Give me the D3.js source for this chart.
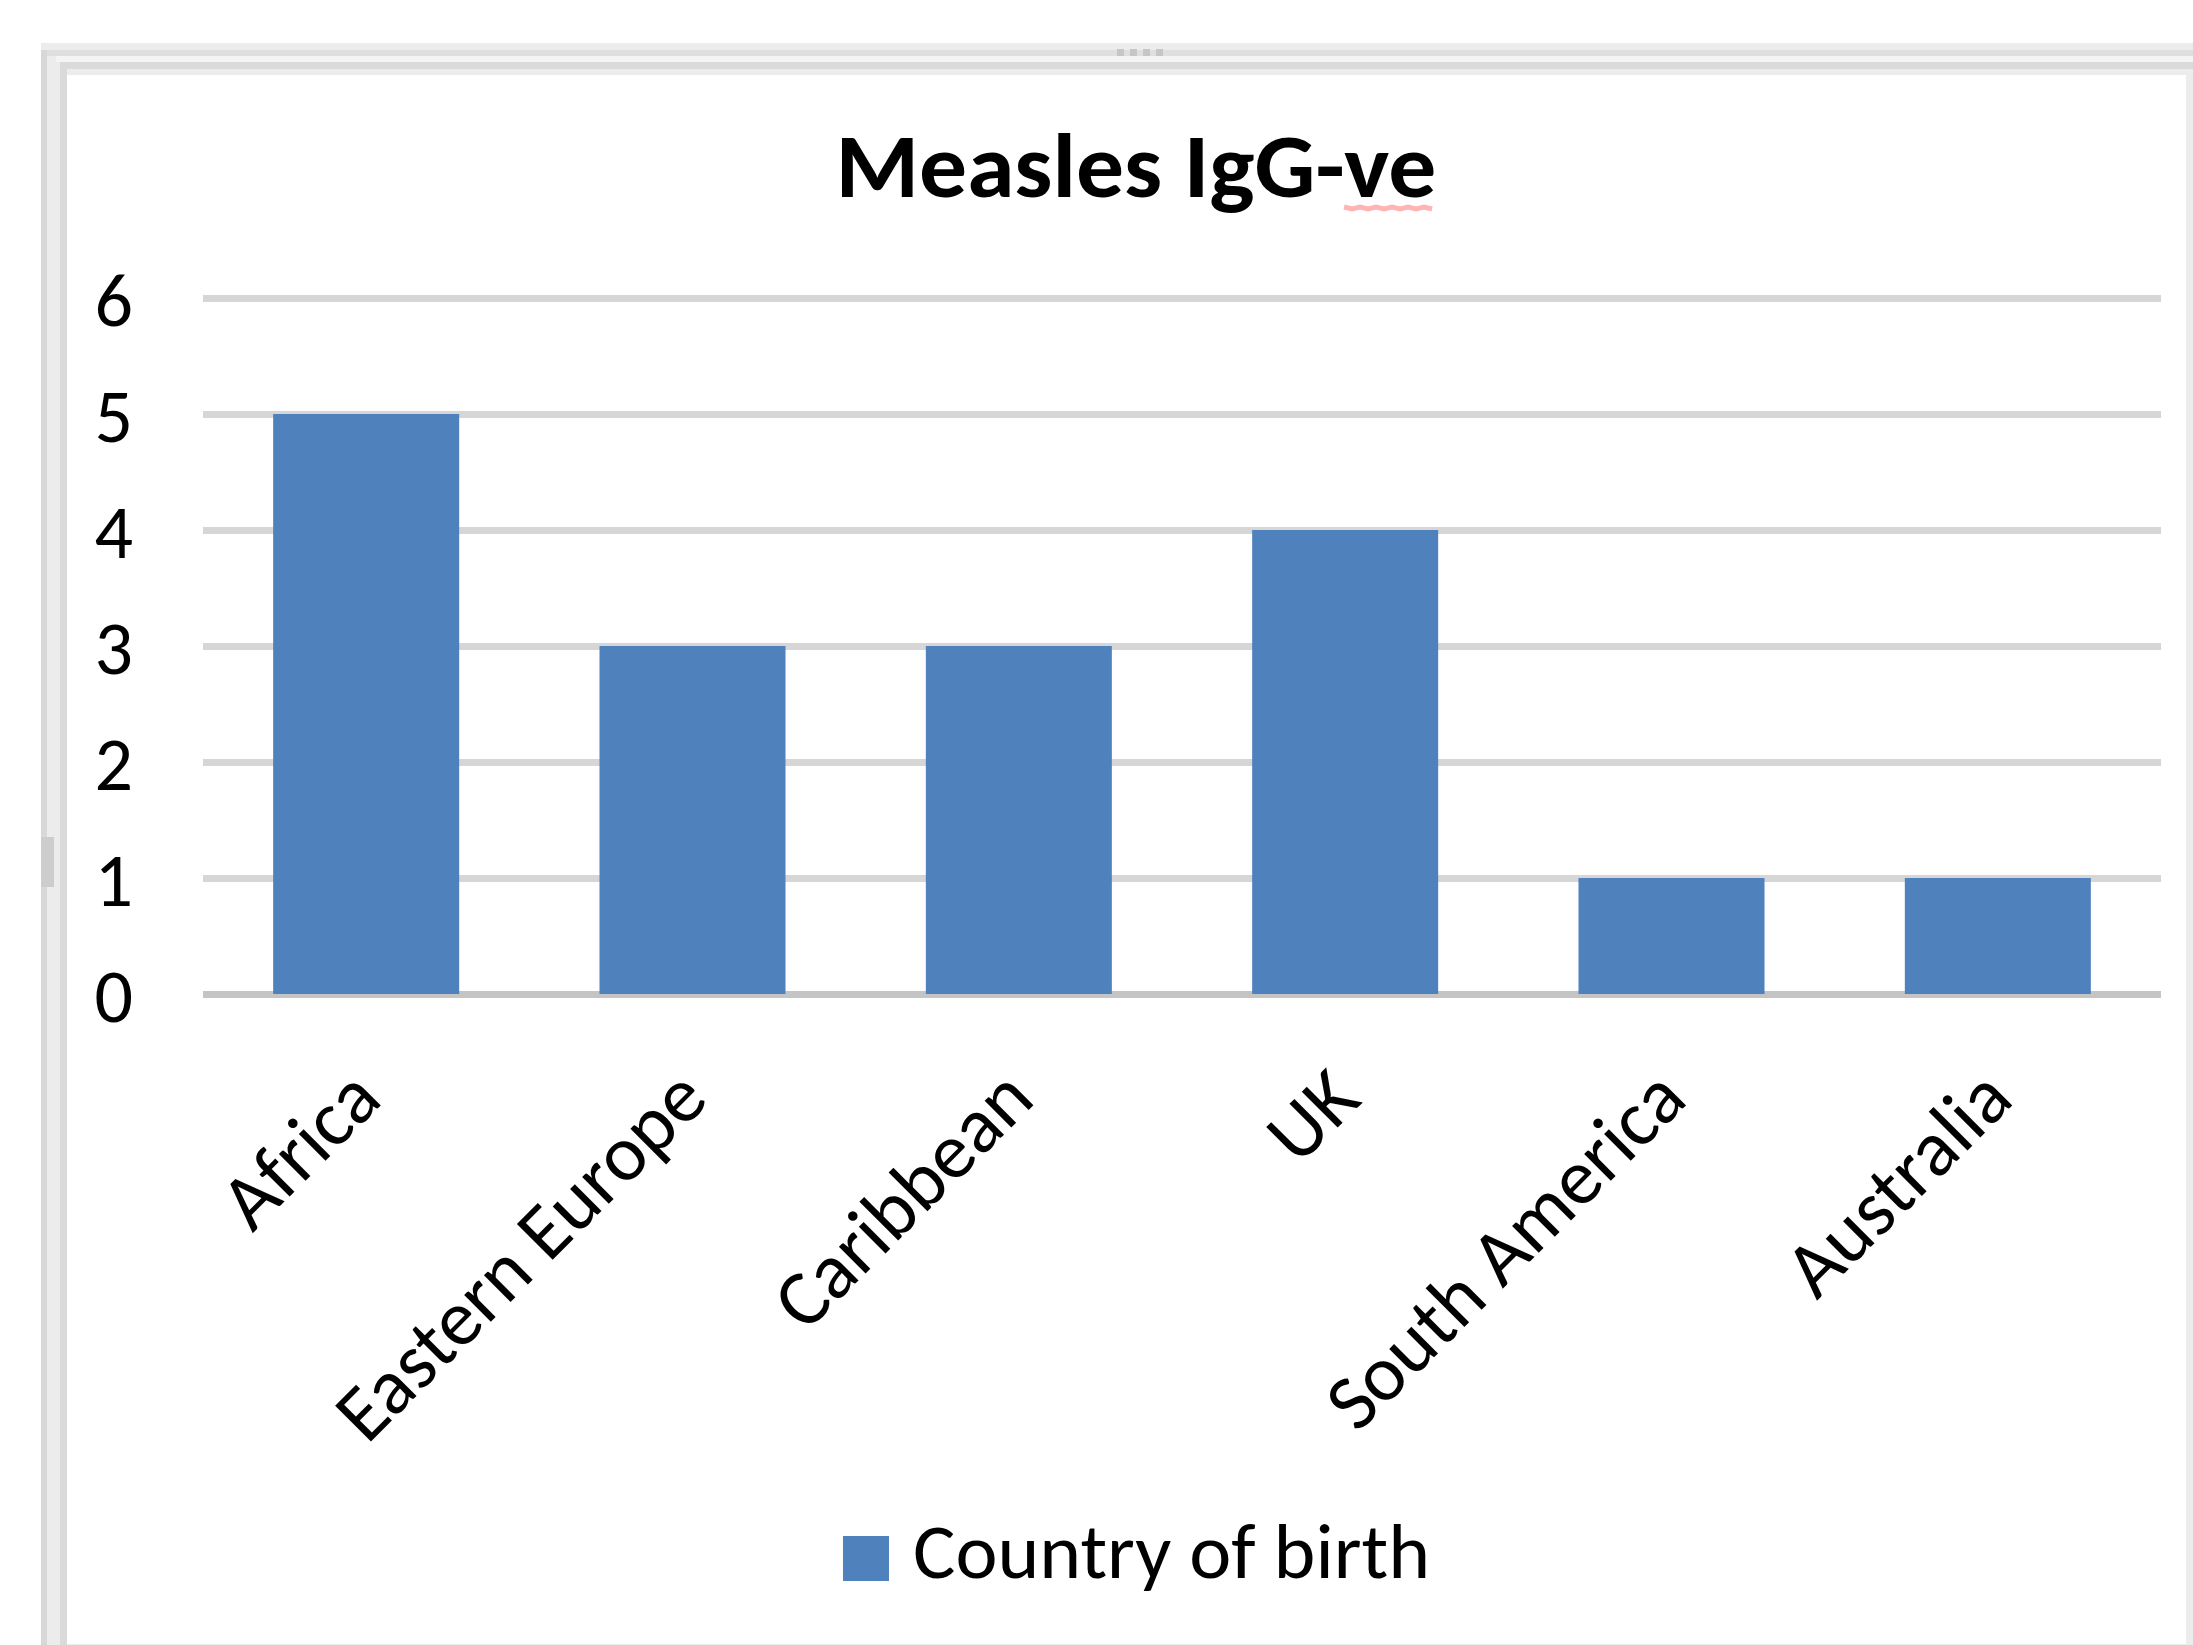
<!DOCTYPE html>
<html>
<head>
<meta charset="utf-8">
<script src="https://cdn.jsdelivr.net/npm/d3@7"></script>
<style>
  body { margin: 0; background: #fff; }
  svg { display: block; }
  text { font-family: Carlito, Calibri, Lato, "Open Sans", sans-serif; fill: #000; }
</style>
</head>
<body>
<div id="chart"></div>
<script>
// chart data
var categories = ["Africa", "Eastern Europe", "Caribbean", "UK", "South America", "Australia"];
var values = [5, 3, 3, 4, 1, 1];
var yTicks = [0, 1, 2, 3, 4, 5, 6];
var chartTitle = "Measles IgG-ve";
var seriesName = "Country of birth";

var W = 2193, H = 1645;
var margin = {top: 298, left: 203},
  plotW = 2161 - 203,
  plotH = 994 - 298;

var svg = d3.select("#chart")
  .append("svg")
    .attr("width", W)
    .attr("height", H);

// window frame around the chart
var frame = svg.append("g");
frame.append("rect").attr("x", 41).attr("y", 43).attr("width", W - 41).attr("height", H - 43).attr("fill", "#ececec");
frame.append("rect").attr("x", 41).attr("y", 50).attr("width", W - 41).attr("height", 6).attr("fill", "#dfdfdf");
frame.append("rect").attr("x", 56).attr("y", 56).attr("width", W - 56).attr("height", 6).attr("fill", "#f4f4f4");
frame.append("rect").attr("x", 60).attr("y", 62).attr("width", W - 60).attr("height", 7).attr("fill", "#dadada");
frame.append("rect").attr("x", 41).attr("y", 50).attr("width", 6).attr("height", H - 50).attr("fill", "#d8d8d8");
frame.append("rect").attr("x", 60).attr("y", 62).attr("width", 7).attr("height", H - 62).attr("fill", "#dadada");
frame.append("rect").attr("x", 67).attr("y", 75).attr("width", 2186 - 67).attr("height", 1644 - 75).attr("fill", "#fff");
// grab handles
frame.selectAll(".dot").data(d3.range(4)).enter().append("rect")
  .attr("x", function(d) { return 1117 + d * 13; })
  .attr("y", 49).attr("width", 7).attr("height", 7).attr("fill", "#c6c6c6");
frame.append("rect").attr("x", 41).attr("y", 837).attr("width", 13).attr("height", 50).attr("fill", "#cdcdcd");

var g = svg.append("g")
  .attr("transform", "translate(" + margin.left + "," + margin.top + ")");

var x = d3.scaleBand()
  .domain(categories)
  .range([0, plotW])
  .paddingInner(0.43)
  .paddingOuter(0.215);

var y = d3.scaleLinear()
  .domain([0, 6])
  .range([plotH, 0]);

// gridlines + y labels
var yAxis = g.append("g")
  .call(d3.axisLeft(y).tickValues(yTicks).tickSize(-plotW).tickPadding(70).tickFormat(d3.format("d")));
yAxis.select(".domain").remove();
yAxis.selectAll(".tick line")
  .attr("stroke", function(d) { return d === 0 ? "#c4c4c4" : "#d6d6d6"; })
  .attr("stroke-width", 7);
yAxis.selectAll(".tick text")
  .style("font-size", "76px")
  .attr("dy", "0.36em");

// bars
g.selectAll(".bar")
  .data(values)
  .enter()
  .append("rect")
    .attr("class", "bar")
    .attr("x", function(d, i) { return x(categories[i]); })
    .attr("y", function(d) { return y(d); })
    .attr("width", x.bandwidth())
    .attr("height", function(d) { return y(0) - y(d); })
    .attr("fill", "#4f81bd");

// x labels, rotated
var xAxis = g.append("g")
  .attr("transform", "translate(0," + plotH + ")")
  .call(d3.axisBottom(x).tickSize(0).tickPadding(0));
xAxis.select(".domain").remove();
xAxis.selectAll(".tick text")
  .style("font-size", "79px")
  .attr("text-anchor", "end")
  .attr("dy", 0)
  .attr("transform", "translate(18,108) rotate(-45)");

// title
var title = svg.append("text")
  .attr("x", 1136)
  .attr("y", 197)
  .attr("text-anchor", "middle")
  .attr("textLength", 601)
  .attr("lengthAdjust", "spacingAndGlyphs")
  .style("font-size", "92px")
  .style("font-weight", "bold")
  .text(chartTitle);

// spell check squiggle under "ve"
var tNode = title.node();
var full = tNode.getComputedTextLength();
var startX = 1136 - full / 2 + tNode.getSubStringLength(0, chartTitle.length - 2);
var endX = 1136 + full / 2;
var wave = d3.range(startX, endX + 1, 8).map(function(px, i) { return [px, 207 + (i % 2) * 2]; });
svg.append("path")
  .attr("d", d3.line()(wave))
  .attr("fill", "none")
  .attr("stroke", "#ffb4b4")
  .attr("stroke-width", 5);

// legend
var legend = svg.append("g");
legend.append("rect")
  .attr("x", 843).attr("y", 1536)
  .attr("width", 46).attr("height", 45)
  .attr("fill", "#4f81bd");
legend.append("text")
  .attr("x", 913).attr("y", 1578)
  .attr("textLength", 517)
  .attr("lengthAdjust", "spacingAndGlyphs")
  .style("font-size", "78px")
  .text(seriesName);
</script>
</body>
</html>
